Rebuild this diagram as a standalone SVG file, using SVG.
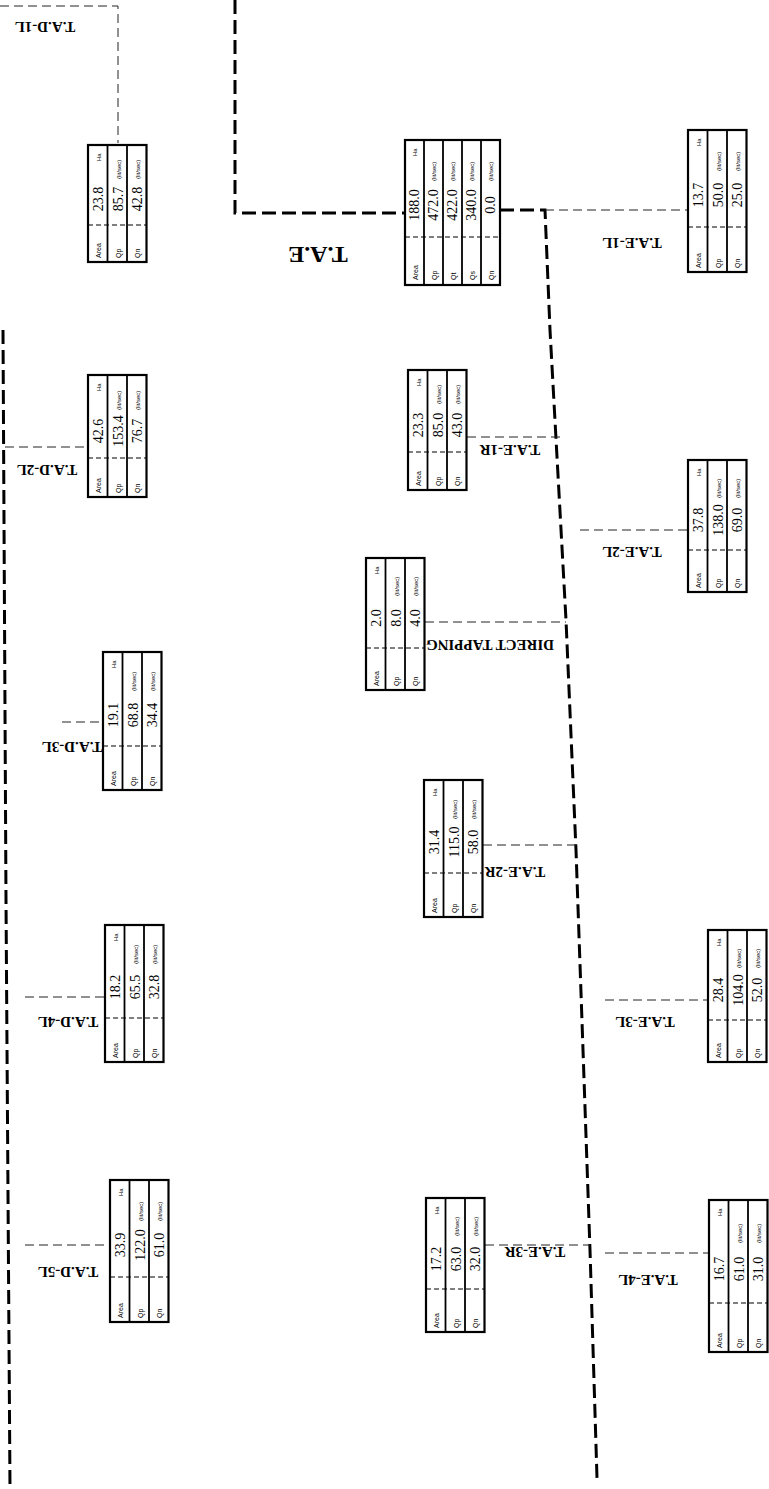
<svg xmlns="http://www.w3.org/2000/svg" width="769" height="1489" viewBox="0 0 769 1489">
<style>
.tk{fill:none;stroke:#000;stroke-width:3;stroke-dasharray:14 6}
.tn{fill:none;stroke:#222;stroke-width:1;stroke-dasharray:9 5}
.tb{fill:#fff;stroke:#000;stroke-width:2.2}
.rl{stroke:#000;stroke-width:1.8}
.dv{stroke:#000;stroke-width:1;stroke-dasharray:5 3}
.lb{font-family:"Liberation Sans",sans-serif;font-size:7px}
.vl{font-family:"Liberation Serif",serif;font-size:14px;text-anchor:middle}
.un{font-family:"Liberation Sans",sans-serif;font-size:6px}
.nm{font-family:"Liberation Serif",serif;font-size:15px;font-weight:bold;text-anchor:middle}
</style>
<rect width="769" height="1489" fill="#fff"/>
<g id="connectors">
<polyline class="tk" points="235,0 235,213 405,213"/>
<polyline class="tk" points="500,210 545,210 550,330 566,620 576,850 590,1250 597,1478"/>
<polyline class="tk" points="3,330 6,900 10,1489"/>
<polyline class="tn" points="0,6 118,6 118,143"/>
<line class="tn" x1="5" y1="447" x2="88" y2="447"/>
<line class="tn" x1="62" y1="722" x2="103" y2="722"/>
<line class="tn" x1="25" y1="997" x2="105" y2="997"/>
<line class="tn" x1="25" y1="1245" x2="110" y2="1245"/>
<line class="tn" x1="545" y1="210" x2="688" y2="210"/>
<line class="tn" x1="467" y1="437" x2="563" y2="437"/>
<line class="tn" x1="425" y1="622" x2="566" y2="622"/>
<line class="tn" x1="483" y1="845" x2="576" y2="845"/>
<line class="tn" x1="485" y1="1245" x2="590" y2="1245"/>
<line class="tn" x1="580" y1="530" x2="688" y2="530"/>
<line class="tn" x1="605" y1="1000" x2="708" y2="1000"/>
<line class="tn" x1="605" y1="1253" x2="709" y2="1253"/>
</g>
<g id="tae" transform="translate(405,285) rotate(-90)">
<rect class="tb" width="145" height="95"/>
<line class="rl" x1="0" y1="19" x2="145" y2="19"/><line class="rl" x1="0" y1="38" x2="145" y2="38"/><line class="rl" x1="0" y1="57" x2="145" y2="57"/><line class="rl" x1="0" y1="76" x2="145" y2="76"/>
<line class="dv" x1="48" y1="0" x2="48" y2="95"/>
<text class="lb" x="5" y="13">Area</text><text class="lb" x="5" y="32">Qp</text><text class="lb" x="5" y="51">Qt</text><text class="lb" x="5" y="70">Qs</text><text class="lb" x="5" y="89">Qn</text>
<text class="vl" x="80" y="14">188.0</text><text class="vl" x="80" y="33">472.0</text><text class="vl" x="80" y="52">422.0</text><text class="vl" x="80" y="71">340.0</text><text class="vl" x="80" y="90">0.0</text>
<text class="un" x="129" y="12">Ha</text><text class="un" x="104" y="31">(lit/sec)</text><text class="un" x="104" y="50">(lit/sec)</text><text class="un" x="104" y="69">(lit/sec)</text><text class="un" x="104" y="88">(lit/sec)</text>
</g>
<text class="nm" style="font-size:24px" transform="translate(318,255) rotate(180)" y="8">T.A.E</text>
<g id="tad1l">
<g transform="translate(88,262) rotate(-90)">
<rect class="tb" width="117" height="58.5"/><line class="rl" x1="0" y1="19.5" x2="117" y2="19.5"/><line class="rl" x1="0" y1="39" x2="117" y2="39"/><line class="dv" x1="37" y1="0" x2="37" y2="58.5"/>
<text class="lb" x="4" y="13">Area</text><text class="lb" x="4" y="32.5">Qp</text><text class="lb" x="4" y="52">Qn</text>
<text class="vl" x="63" y="15">23.8</text><text class="vl" x="63" y="34.5">85.7</text><text class="vl" x="63" y="54">42.8</text>
<text class="un" x="101" y="13">Ha</text><text class="un" x="83" y="32.5">(lit/sec)</text><text class="un" x="83" y="52">(lit/sec)</text>
</g>
<text class="nm" transform="translate(45,27) rotate(180)" y="5">T.A.D-1L</text>
</g>
<g id="tad2l">
<g transform="translate(88,497) rotate(-90)">
<rect class="tb" width="122" height="58.5"/><line class="rl" x1="0" y1="19.5" x2="122" y2="19.5"/><line class="rl" x1="0" y1="39" x2="122" y2="39"/><line class="dv" x1="39" y1="0" x2="39" y2="58.5"/>
<text class="lb" x="4" y="13">Area</text><text class="lb" x="4" y="32.5">Qp</text><text class="lb" x="4" y="52">Qn</text>
<text class="vl" x="66" y="15">42.6</text><text class="vl" x="66" y="34.5">153.4</text><text class="vl" x="66" y="54">76.7</text>
<text class="un" x="106" y="13">Ha</text><text class="un" x="87" y="32.5">(lit/sec)</text><text class="un" x="87" y="52">(lit/sec)</text>
</g>
<text class="nm" transform="translate(47,470) rotate(180)" y="5">T.A.D-2L</text>
</g>
<g id="tad3l">
<g transform="translate(103,790) rotate(-90)">
<rect class="tb" width="138" height="58.5"/><line class="rl" x1="0" y1="19.5" x2="138" y2="19.5"/><line class="rl" x1="0" y1="39" x2="138" y2="39"/><line class="dv" x1="44" y1="0" x2="44" y2="58.5"/>
<text class="lb" x="4" y="13">Area</text><text class="lb" x="4" y="32.5">Qp</text><text class="lb" x="4" y="52">Qn</text>
<text class="vl" x="75" y="15">19.1</text><text class="vl" x="75" y="34.5">68.8</text><text class="vl" x="75" y="54">34.4</text>
<text class="un" x="122" y="13">Ha</text><text class="un" x="99" y="32.5">(lit/sec)</text><text class="un" x="99" y="52">(lit/sec)</text>
</g>
<text class="nm" transform="translate(72,747) rotate(180)" y="5">T.A.D-3L</text>
</g>
<g id="tad4l">
<g transform="translate(105,1062) rotate(-90)">
<rect class="tb" width="137" height="58.5"/><line class="rl" x1="0" y1="19.5" x2="137" y2="19.5"/><line class="rl" x1="0" y1="39" x2="137" y2="39"/><line class="dv" x1="44" y1="0" x2="44" y2="58.5"/>
<text class="lb" x="4" y="13">Area</text><text class="lb" x="4" y="32.5">Qp</text><text class="lb" x="4" y="52">Qn</text>
<text class="vl" x="75" y="15">18.2</text><text class="vl" x="75" y="34.5">65.5</text><text class="vl" x="75" y="54">32.8</text>
<text class="un" x="121" y="13">Ha</text><text class="un" x="98" y="32.5">(lit/sec)</text><text class="un" x="98" y="52">(lit/sec)</text>
</g>
<text class="nm" transform="translate(68,1022) rotate(180)" y="5">T.A.D-4L</text>
</g>
<g id="tad5l">
<g transform="translate(110,1322) rotate(-90)">
<rect class="tb" width="142" height="58.5"/><line class="rl" x1="0" y1="19.5" x2="142" y2="19.5"/><line class="rl" x1="0" y1="39" x2="142" y2="39"/><line class="dv" x1="45" y1="0" x2="45" y2="58.5"/>
<text class="lb" x="4" y="13">Area</text><text class="lb" x="4" y="32.5">Qp</text><text class="lb" x="4" y="52">Qn</text>
<text class="vl" x="77" y="15">33.9</text><text class="vl" x="77" y="34.5">122.0</text><text class="vl" x="77" y="54">61.0</text>
<text class="un" x="126" y="13">Ha</text><text class="un" x="101" y="32.5">(lit/sec)</text><text class="un" x="101" y="52">(lit/sec)</text>
</g>
<text class="nm" transform="translate(68,1272) rotate(180)" y="5">T.A.D-5L</text>
</g>
<g id="tae1r">
<g transform="translate(408,490) rotate(-90)">
<rect class="tb" width="120" height="58.5"/><line class="rl" x1="0" y1="19.5" x2="120" y2="19.5"/><line class="rl" x1="0" y1="39" x2="120" y2="39"/><line class="dv" x1="38" y1="0" x2="38" y2="58.5"/>
<text class="lb" x="4" y="13">Area</text><text class="lb" x="4" y="32.5">Qp</text><text class="lb" x="4" y="52">Qn</text>
<text class="vl" x="65" y="15">23.3</text><text class="vl" x="65" y="34.5">85.0</text><text class="vl" x="65" y="54">43.0</text>
<text class="un" x="104" y="13">Ha</text><text class="un" x="86" y="32.5">(lit/sec)</text><text class="un" x="86" y="52">(lit/sec)</text>
</g>
<text class="nm" transform="translate(510,450) rotate(180)" y="5">T.A.E-1R</text>
</g>
<g id="direct">
<g transform="translate(366,690) rotate(-90)">
<rect class="tb" width="132" height="58.5"/><line class="rl" x1="0" y1="19.5" x2="132" y2="19.5"/><line class="rl" x1="0" y1="39" x2="132" y2="39"/><line class="dv" x1="42" y1="0" x2="42" y2="58.5"/>
<text class="lb" x="4" y="13">Area</text><text class="lb" x="4" y="32.5">Qp</text><text class="lb" x="4" y="52">Qn</text>
<text class="vl" x="72" y="15">2.0</text><text class="vl" x="72" y="34.5">8.0</text><text class="vl" x="72" y="54">4.0</text>
<text class="un" x="116" y="13">Ha</text><text class="un" x="94" y="32.5">(lit/sec)</text><text class="un" x="94" y="52">(lit/sec)</text>
</g>
<text class="nm" transform="translate(490,645) rotate(180)" y="5">DIRECT TAPPING</text>
</g>
<g id="tae2r">
<g transform="translate(424,917) rotate(-90)">
<rect class="tb" width="137" height="58.5"/><line class="rl" x1="0" y1="19.5" x2="137" y2="19.5"/><line class="rl" x1="0" y1="39" x2="137" y2="39"/><line class="dv" x1="44" y1="0" x2="44" y2="58.5"/>
<text class="lb" x="4" y="13">Area</text><text class="lb" x="4" y="32.5">Qp</text><text class="lb" x="4" y="52">Qn</text>
<text class="vl" x="75" y="15">31.4</text><text class="vl" x="75" y="34.5">115.0</text><text class="vl" x="75" y="54">58.0</text>
<text class="un" x="121" y="13">Ha</text><text class="un" x="98" y="32.5">(lit/sec)</text><text class="un" x="98" y="52">(lit/sec)</text>
</g>
<text class="nm" transform="translate(515,872) rotate(180)" y="5">T.A.E-2R</text>
</g>
<g id="tae3r">
<g transform="translate(426,1332) rotate(-90)">
<rect class="tb" width="134" height="58.5"/><line class="rl" x1="0" y1="19.5" x2="134" y2="19.5"/><line class="rl" x1="0" y1="39" x2="134" y2="39"/><line class="dv" x1="43" y1="0" x2="43" y2="58.5"/>
<text class="lb" x="4" y="13">Area</text><text class="lb" x="4" y="32.5">Qp</text><text class="lb" x="4" y="52">Qn</text>
<text class="vl" x="73" y="15">17.2</text><text class="vl" x="73" y="34.5">63.0</text><text class="vl" x="73" y="54">32.0</text>
<text class="un" x="118" y="13">Ha</text><text class="un" x="96" y="32.5">(lit/sec)</text><text class="un" x="96" y="52">(lit/sec)</text>
</g>
<text class="nm" transform="translate(535,1252) rotate(180)" y="5">T.A.E-3R</text>
</g>
<g id="tae1l">
<g transform="translate(688,272) rotate(-90)">
<rect class="tb" width="142" height="58.5"/><line class="rl" x1="0" y1="19.5" x2="142" y2="19.5"/><line class="rl" x1="0" y1="39" x2="142" y2="39"/><line class="dv" x1="45" y1="0" x2="45" y2="58.5"/>
<text class="lb" x="4" y="13">Area</text><text class="lb" x="4" y="32.5">Qp</text><text class="lb" x="4" y="52">Qn</text>
<text class="vl" x="77" y="15">13.7</text><text class="vl" x="77" y="34.5">50.0</text><text class="vl" x="77" y="54">25.0</text>
<text class="un" x="126" y="13">Ha</text><text class="un" x="101" y="32.5">(lit/sec)</text><text class="un" x="101" y="52">(lit/sec)</text>
</g>
<text class="nm" transform="translate(632,243) rotate(180)" y="5">T.A.E-1L</text>
</g>
<g id="tae2l">
<g transform="translate(688,592) rotate(-90)">
<rect class="tb" width="132" height="58.5"/><line class="rl" x1="0" y1="19.5" x2="132" y2="19.5"/><line class="rl" x1="0" y1="39" x2="132" y2="39"/><line class="dv" x1="42" y1="0" x2="42" y2="58.5"/>
<text class="lb" x="4" y="13">Area</text><text class="lb" x="4" y="32.5">Qp</text><text class="lb" x="4" y="52">Qn</text>
<text class="vl" x="72" y="15">37.8</text><text class="vl" x="72" y="34.5">138.0</text><text class="vl" x="72" y="54">69.0</text>
<text class="un" x="116" y="13">Ha</text><text class="un" x="94" y="32.5">(lit/sec)</text><text class="un" x="94" y="52">(lit/sec)</text>
</g>
<text class="nm" transform="translate(632,552) rotate(180)" y="5">T.A.E-2L</text>
</g>
<g id="tae3l">
<g transform="translate(708,1062) rotate(-90)">
<rect class="tb" width="132" height="58.5"/><line class="rl" x1="0" y1="19.5" x2="132" y2="19.5"/><line class="rl" x1="0" y1="39" x2="132" y2="39"/><line class="dv" x1="42" y1="0" x2="42" y2="58.5"/>
<text class="lb" x="4" y="13">Area</text><text class="lb" x="4" y="32.5">Qp</text><text class="lb" x="4" y="52">Qn</text>
<text class="vl" x="72" y="15">28.4</text><text class="vl" x="72" y="34.5">104.0</text><text class="vl" x="72" y="54">52.0</text>
<text class="un" x="116" y="13">Ha</text><text class="un" x="94" y="32.5">(lit/sec)</text><text class="un" x="94" y="52">(lit/sec)</text>
</g>
<text class="nm" transform="translate(645,1022) rotate(180)" y="5">T.A.E-3L</text>
</g>
<g id="tae4l">
<g transform="translate(709,1352) rotate(-90)">
<rect class="tb" width="152" height="58.5"/><line class="rl" x1="0" y1="19.5" x2="152" y2="19.5"/><line class="rl" x1="0" y1="39" x2="152" y2="39"/><line class="dv" x1="49" y1="0" x2="49" y2="58.5"/>
<text class="lb" x="4" y="13">Area</text><text class="lb" x="4" y="32.5">Qp</text><text class="lb" x="4" y="52">Qn</text>
<text class="vl" x="83" y="15">16.7</text><text class="vl" x="83" y="34.5">61.0</text><text class="vl" x="83" y="54">31.0</text>
<text class="un" x="136" y="13">Ha</text><text class="un" x="109" y="32.5">(lit/sec)</text><text class="un" x="109" y="52">(lit/sec)</text>
</g>
<text class="nm" transform="translate(648,1280) rotate(180)" y="5">T.A.E-4L</text>
</g>
</svg>
